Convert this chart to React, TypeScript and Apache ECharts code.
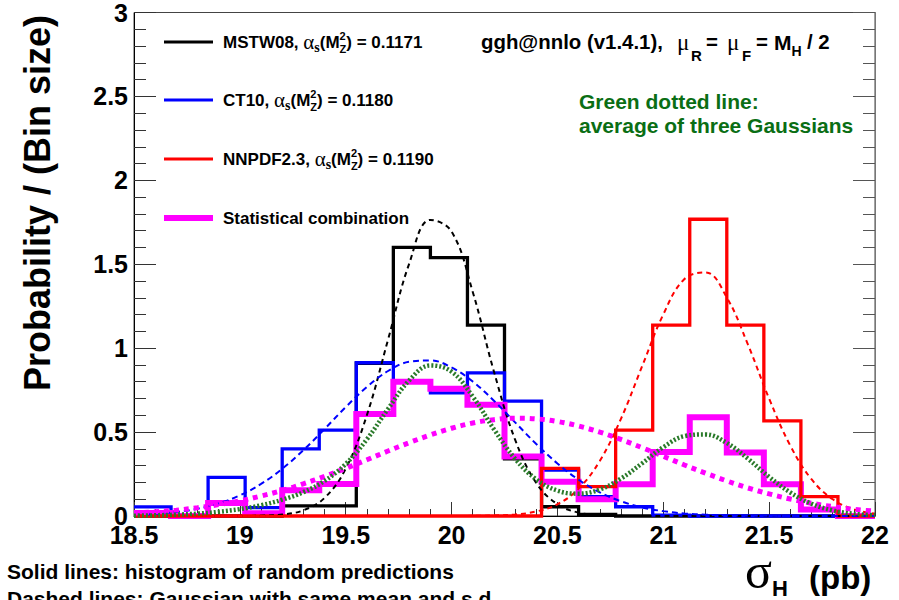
import React, { useEffect, useRef } from "react";
import * as echarts from "echarts";

// ---------- data ----------
const BIN_EDGES = [18.5, 18.675, 18.85, 19.025, 19.2, 19.375, 19.55, 19.725, 19.9, 20.075, 20.25, 20.425, 20.6, 20.775, 20.95, 21.125, 21.3, 21.475, 21.65, 21.825, 22];
const MSTW_HIST = [0, 0, 0, 0, 0.06, 0.06, 0.91, 1.6, 1.54, 1.137, 0.34, 0.055, 0.01, 0, 0, 0, 0, 0, 0, 0];
const CT10_HIST = [0.054, 0, 0.23, 0.05, 0.4, 0.512, 0.913, 0.8, 0.734, 0.853, 0.685, 0.273, 0.115, 0.055, 0.005, 0, 0, 0, 0, 0];
const NNPDF_HIST = [0, 0, 0, 0, 0, 0, 0, 0, 0, 0, 0, 0.284, 0.175, 0.512, 1.137, 1.768, 1.137, 0.567, 0.115, 0];
const COMB_HIST = [0.018, 0, 0.077, 0.017, 0.153, 0.19, 0.608, 0.8, 0.758, 0.663, 0.355, 0.204, 0.1, 0.189, 0.381, 0.589, 0.379, 0.189, 0.038, 0];

const CURVE_X = [18.5, 18.6, 18.7, 18.8, 18.9, 19.0, 19.1, 19.2, 19.3, 19.4, 19.5, 19.6, 19.7, 19.8, 19.9, 20.0, 20.1, 20.2, 20.3, 20.4, 20.5, 20.6, 20.7, 20.8, 20.9, 21.0, 21.1, 21.2, 21.3, 21.4, 21.5, 21.6, 21.7, 21.8, 21.9, 22.0];
const MSTW_GAUSS = [0, 0, 0, 0, 0, 0.0003, 0.002, 0.009, 0.034, 0.108, 0.282, 0.601, 1.051, 1.504, 1.764, 1.695, 1.335, 0.861, 0.455, 0.197, 0.07, 0.02, 0.005, 0.001, 0, 0, 0, 0, 0, 0, 0, 0, 0, 0, 0, 0];
const CT10_GAUSS = [0.006, 0.012, 0.024, 0.043, 0.075, 0.123, 0.191, 0.281, 0.392, 0.518, 0.649, 0.769, 0.864, 0.919, 0.927, 0.885, 0.801, 0.687, 0.558, 0.429, 0.313, 0.216, 0.141, 0.088, 0.051, 0.029, 0.015, 0.008, 0.004, 0.002, 0.001, 0, 0, 0, 0, 0];
const NNPDF_GAUSS = [0, 0, 0, 0, 0, 0, 0, 0, 0, 0, 0, 0, 0, 0, 0, 0, 0.001, 0.003, 0.009, 0.027, 0.07, 0.163, 0.328, 0.579, 0.892, 1.201, 1.412, 1.451, 1.302, 1.021, 0.699, 0.419, 0.219, 0.1, 0.04, 0.014];
const COMB_GAUSS = [0.017, 0.025, 0.035, 0.049, 0.068, 0.09, 0.119, 0.152, 0.192, 0.236, 0.284, 0.335, 0.387, 0.437, 0.483, 0.523, 0.554, 0.574, 0.583, 0.579, 0.563, 0.536, 0.5, 0.456, 0.407, 0.356, 0.304, 0.255, 0.209, 0.167, 0.132, 0.101, 0.076, 0.056, 0.04, 0.029];
const AVG_GAUSS = [0.002, 0.004, 0.008, 0.014, 0.025, 0.041, 0.064, 0.097, 0.142, 0.209, 0.31, 0.457, 0.638, 0.808, 0.897, 0.86, 0.712, 0.517, 0.341, 0.218, 0.151, 0.133, 0.158, 0.223, 0.314, 0.41, 0.476, 0.486, 0.435, 0.341, 0.233, 0.14, 0.073, 0.033, 0.013, 0.005];

const LEGEND_PDF = ["MSTW08, ", "CT10, ", "NNPDF2.3, "];
const LEGEND_ALPHA = ["0.1171", "0.1180", "0.1190"];
const LEGEND_COMB = "Statistical combination";

// ---------- helpers ----------
const SANS = '"Liberation Sans", Arial, sans-serif';
const SERIF = '"Liberation Serif", "Times New Roman", serif';

let measureCtx: CanvasRenderingContext2D | null = null;
function measure(text: string, font: string): number {
  if (!measureCtx) measureCtx = document.createElement("canvas").getContext("2d");
  measureCtx!.font = font;
  return measureCtx!.measureText(text).width;
}

type Seg = { t: string; size: number; serif?: boolean; normal?: boolean; dy?: number; stack?: boolean; x?: number };

function compose(x0: number, y0: number, segs: Seg[], color: string): any[] {
  let x = x0;
  const els: any[] = [];
  for (const s of segs) {
    if (s.x !== undefined) x = s.x;
    const fam = s.serif ? SERIF : SANS;
    const weight = s.normal ? "normal" : "bold";
    const font = `${weight} ${s.size}px ${fam}`;
    els.push({
      type: "text",
      x,
      y: y0 + (s.dy || 0),
      silent: true,
      style: {
        text: s.t,
        fontSize: s.size,
        fontFamily: fam,
        fontWeight: weight,
        fill: color,
        align: "left",
        verticalAlign: "middle",
      },
    });
    if (!s.stack) x += measure(s.t, font);
  }
  return els;
}

function histData(values: number[]) {
  const pts = values.map((v, i) => [BIN_EDGES[i], v]);
  pts.push([BIN_EDGES[BIN_EDGES.length - 1], values[values.length - 1]]);
  return pts;
}

function curveData(values: number[]) {
  return CURVE_X.map((x, i) => [x, values[i]]);
}

export default function App() {
  const ref = useRef<HTMLDivElement>(null);

  useEffect(() => {
    if (!ref.current) return;
    const chart = echarts.init(ref.current, undefined, { renderer: "svg" });

    const histSeries = (name: string, vals: number[], color: string, width: number) => ({
      name,
      type: "line",
      data: histData(vals),
      step: "end",
      showSymbol: false,
      symbol: "none",
      clip: false,
      lineStyle: { color, width, join: "miter" },
      z: 2,
    });
    const curveSeries = (name: string, vals: number[], color: string, width: number, dash: number[]) => ({
      name,
      type: "line",
      data: curveData(vals),
      smooth: 0.4,
      showSymbol: false,
      symbol: "none",
      clip: false,
      lineStyle: { color, width, type: dash, cap: "butt" },
      z: 3,
    });

    const legendY = [42, 100, 159, 218];
    const legendColors = ["#000000", "#0000ff", "#ff0000"];
    const graphics: any[] = [];
    legendY.forEach((y, i) => {
      graphics.push({
        type: "line",
        silent: true,
        shape: { x1: 164, y1: y, x2: 213, y2: y },
        style: { stroke: i < 3 ? legendColors[i] : "#ff00ff", lineWidth: i < 3 ? 3 : 6 },
      });
      if (i < 3) {
        graphics.push(
          ...compose(223, y, [
            { t: LEGEND_PDF[i], size: 17 },
            { t: "α", size: 21, serif: true, normal: true },
            { t: "s", size: 14, serif: true, dy: 5 },
            { t: "(M", size: 17 },
            { t: "2", size: 11, dy: -6, stack: true },
            { t: "Z", size: 11, dy: 7 },
            { t: ") = " + LEGEND_ALPHA[i], size: 17 },
          ], "#000")
        );
      } else {
        graphics.push(...compose(223, y, [{ t: LEGEND_COMB, size: 17 }], "#000"));
      }
    });

    graphics.push(
      ...compose(481, 42, [
        { t: "ggh@nnlo (v1.4.1),", size: 20.4 },
        { t: "μ", size: 23, serif: true, normal: true, x: 677 },
        { t: "R", size: 15, dy: 13, x: 691 },
        { t: "=", size: 20.4, x: 706 },
        { t: "μ", size: 23, serif: true, normal: true, x: 727 },
        { t: "F", size: 15, dy: 13, x: 742 },
        { t: "=", size: 20.4, x: 756 },
        { t: "M", size: 21, x: 774 },
        { t: "H", size: 14, dy: 9 },
        { t: "/ 2", size: 20.4, x: 807 },
      ], "#000")
    );
    graphics.push(...compose(579, 101, [{ t: "Green dotted line:", size: 21 }], "#0a6e14"));
    graphics.push(...compose(579, 125, [{ t: "average of three Gaussians", size: 21 }], "#0a6e14"));

    graphics.push(...compose(7, 571, [{ t: "Solid lines: histogram of random predictions", size: 21 }], "#000"));
    graphics.push(...compose(7, 598, [{ t: "Dashed lines: Gaussian with same mean and s.d.", size: 21 }], "#000"));

    graphics.push(
      ...compose(745, 571, [
        { t: "σ", size: 50, serif: true, normal: true },
        { t: "H", size: 22, dy: 17 },
        { t: "(pb)", size: 33, dy: 6, x: 809 },
      ], "#000")
    );

    graphics.push({
      type: "text",
      x: 37,
      y: 203,
      rotation: Math.PI / 2,
      silent: true,
      style: {
        text: "Probability / (Bin size)",
        fontSize: 36,
        fontFamily: SANS,
        fontWeight: "bold",
        fill: "#000",
        align: "center",
        verticalAlign: "middle",
      },
    });

    const tickColor = "#333";
    chart.setOption({
      animation: false,
      grid: { left: 134, right: 24, top: 12, bottom: 84, show: true, borderColor: "#444", borderWidth: 1, backgroundColor: "transparent" },
      xAxis: {
        type: "value",
        min: 18.5,
        max: 22,
        interval: 0.5,
        axisLine: { show: true, onZero: false, lineStyle: { color: "#000", width: 1 } },
        axisTick: { show: true, inside: true, length: 14, lineStyle: { color: tickColor } },
        minorTick: { show: true, splitNumber: 5, length: 7, lineStyle: { color: tickColor } },
        splitLine: { show: false },
        axisLabel: { fontSize: 25, fontWeight: "bold", fontFamily: SANS, color: "#000", margin: 6 },
      },
      yAxis: [
        {
          type: "value",
          min: 0,
          max: 3,
          interval: 0.5,
          axisLine: { show: true, lineStyle: { color: "#000", width: 1 } },
          axisTick: { show: true, inside: true, length: 22, lineStyle: { color: tickColor } },
          minorTick: { show: true, splitNumber: 5, length: 12, lineStyle: { color: tickColor } },
          splitLine: { show: false },
          axisLabel: { fontSize: 25, fontWeight: "bold", fontFamily: SANS, color: "#000", margin: 6 },
        },
        {
          type: "value",
          position: "right",
          min: 0,
          max: 3,
          interval: 0.5,
          axisLine: { show: true, lineStyle: { color: "#777", width: 1 } },
          axisTick: { show: true, inside: true, length: 22, lineStyle: { color: "#555" } },
          minorTick: { show: true, splitNumber: 5, length: 12, lineStyle: { color: "#555" } },
          splitLine: { show: false },
          axisLabel: { show: false },
        },
      ],
      series: [
        histSeries("MSTW08", MSTW_HIST, "#000000", 3.3),
        histSeries("CT10", CT10_HIST, "#0000ff", 3.3),
        histSeries("Statistical combination", COMB_HIST, "#ff00ff", 6),
        histSeries("NNPDF2.3", NNPDF_HIST, "#ff0000", 3.3),
        curveSeries("MSTW08 Gaussian", MSTW_GAUSS, "#000000", 2, [5, 4]),
        curveSeries("CT10 Gaussian", CT10_GAUSS, "#0000ff", 2, [6, 4]),
        curveSeries("NNPDF2.3 Gaussian", NNPDF_GAUSS, "#ff0000", 2, [5, 4]),
        curveSeries("Combination Gaussian", COMB_GAUSS, "#ff00ff", 5, [5, 5]),
        curveSeries("Average of three Gaussians", AVG_GAUSS, "#2a7a2a", 4.5, [2, 2]),
      ],
      graphic: graphics,
    });

    return () => chart.dispose();
  }, []);

  return (
    <div
      ref={ref}
      style={{ position: "fixed", left: 0, top: 0, width: 899, height: 600, background: "#fff" }}
    />
  );
}
